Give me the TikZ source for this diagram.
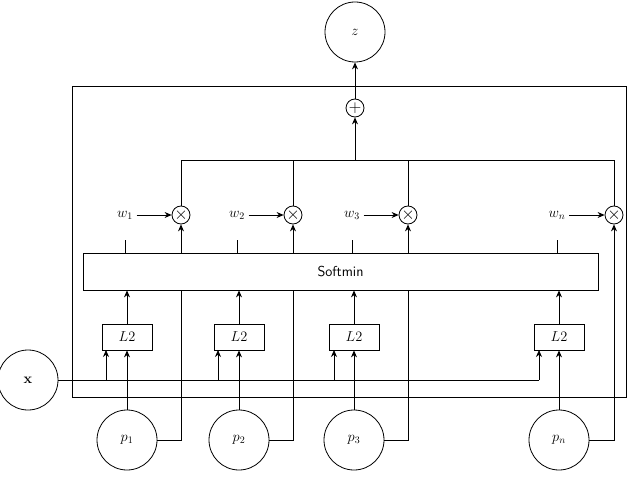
\documentclass[tikz,border=0pt]{standalone}
\usetikzlibrary{arrows.meta}
\begin{document}
\begin{tikzpicture}[x=1pt,y=-1pt,
  every node/.style={font=\Large},
  circ/.style={draw,circle,minimum size=60pt,inner sep=0pt},
  op/.style={draw,circle,minimum size=18pt,inner sep=0pt,font=\LARGE},
  box/.style={draw,fill=white,minimum width=50pt,minimum height=26pt,inner sep=0pt},
  arr/.style={-{Stealth[length=7pt,width=6pt]}},
  line width=0.8pt]
\useasboundingbox (0,0) rectangle (640,484);
% frame
\draw (72,86) rectangle (626,397);
% top
\node[circ] (z) at (355,32) {$z$};
\node[op] (sum) at (355,108) {$+$};
\draw[arr] (sum) -- (z);
\coordinate (bus1) at (181,160);
\coordinate (busn) at (614,160);
\draw[arr] (355,160) -- (sum);
\draw (bus1) -- (busn);
% inputs
\node[circ] (x) at (28,380) {$\mathbf{x}$};
\coordinate (xe) at (539,380);
\draw (x) -- (xe);
\foreach \i/\px/\mx/\xa/\w in {1/127/181/106/w_1,2/239/293/218/w_2,3/354/408/334/w_3,n/559/614/539/w_n}{
  \node[op] (m\i) at (\mx,215) {$\times$};
  \node (w\i) at (\px-2,215) {$\w$};
  \draw[arr] (w\i) -- (m\i);
  \draw (m\i) -- (\mx,160);
  \node[circ] (p\i) at (\px,440) {$p_{\i}$};
  \draw[arr] (p\i.east) -| (m\i);
  \node[box] (l\i) at (\px,337) {$L2$};
  \draw[arr] (p\i) -- (l\i);
  \draw[arr] (\xa,380) -- (\xa,350);
  \draw (\px-2,253) -- (\px-2,240);
}
\node[draw,fill=white,minimum width=515pt,minimum height=37pt,inner sep=0pt,
  font=\sffamily\Large] (soft) at (340.5,271.5) {Softmin};
\foreach \i in {1,2,3,n}{
  \draw[arr] (l\i) -- (l\i |- soft.south);
}
\end{tikzpicture}
\end{document}
